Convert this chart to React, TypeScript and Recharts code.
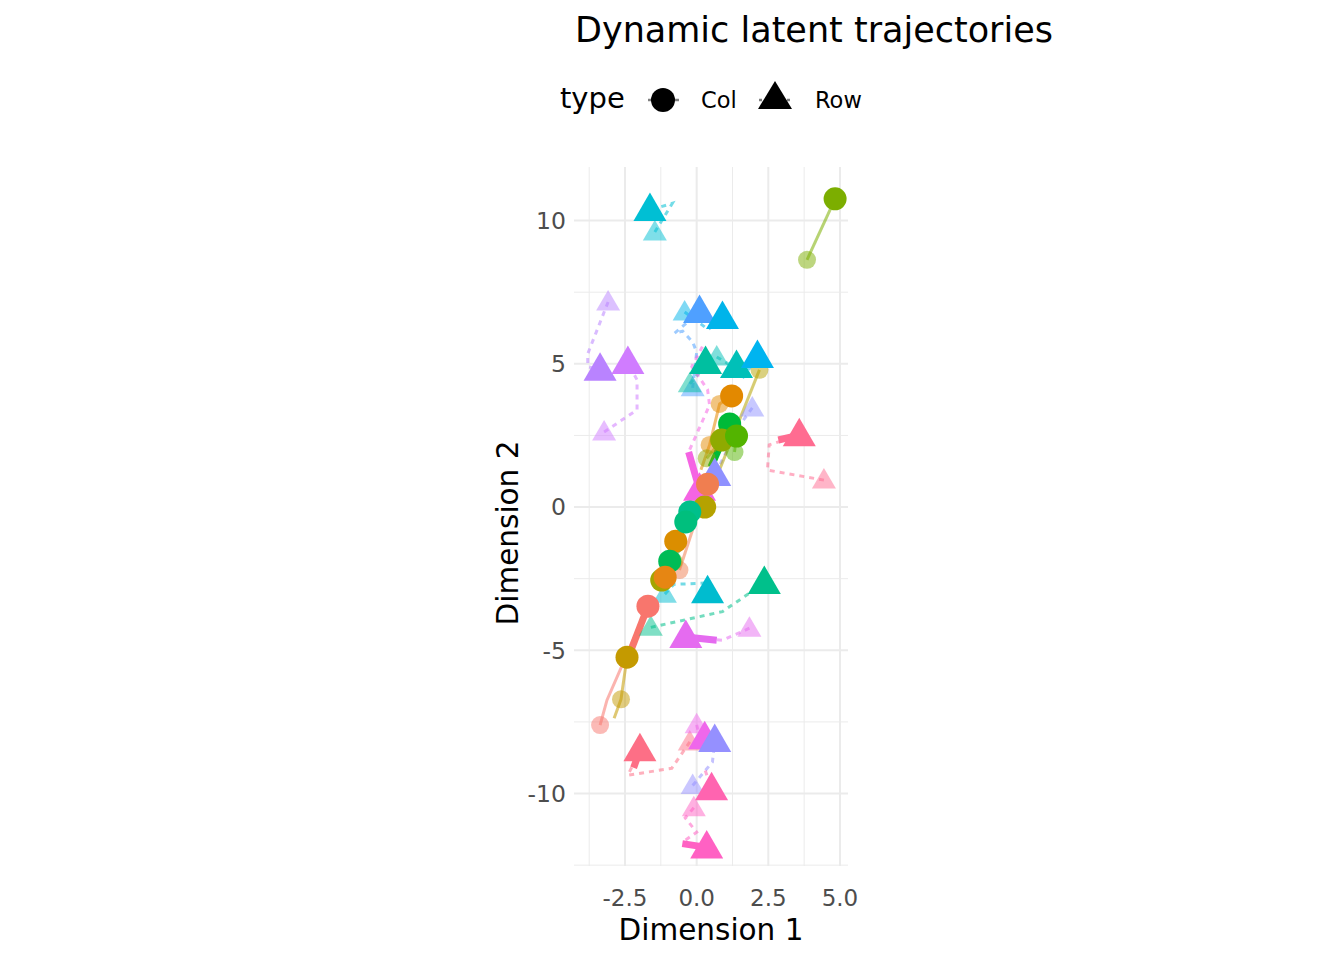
import { ScatterChart, Scatter, XAxis, YAxis, ReferenceLine } from 'recharts';

type Pt = { x: number; y: number; m: number }; // m: 0 = path only, 1 = earlier step, 2 = latest
type Track = { id: string; kind: 'col' | 'row'; color: string; pts: Pt[]; tail?: Pt };

const p = (x: number, y: number, m = 0): Pt => ({ x, y, m });

// ---- tick labels / grid ----
const xTicks = [-2.5, 0, 2.5, 5];
const yTicks = [-10, -5, 0, 5, 10];
const xMinor = [-3.75, -1.25, 1.25, 3.75];
const yMinor = [-12.5, -7.5, -2.5, 2.5, 7.5];

// ---- Col trajectories (solid) ----
const colLime = [p(3.85, 8.63, 1), p(4.83, 10.76, 2)];
const colSalmon = [p(-3.37, -7.61, 1), p(-3.13, -6.74), p(-1.7, -3.46, 2)];
const colGold = [p(-2.88, -7.37), p(-2.64, -6.71, 1), p(-2.43, -5.24, 2)];
const colOrange = [p(0.15, 1.3), p(0.45, 2.17, 1), p(0.8, 3.6, 1), p(1.22, 3.88, 2)];
const colGreen = [p(0.3, 0.9), p(1.15, 2.9, 2)];
const colOliveLime = [p(0.35, 1.7, 1), p(0.87, 2.34, 2)];
const colLeaf = [p(1.32, 1.92, 1), p(1.39, 2.48, 2)];
const colOlive = [p(2.19, 4.79, 1), p(0.28, 0.0, 2)];
const colCoral = [p(-0.6, -2.2, 1), p(0.38, 0.8, 2)];
const colAmber = [p(-0.1, 0.5), p(-0.73, -1.19, 2)];
const colEmerald = [p(-0.4, -1.3), p(-0.94, -1.89, 2)];
const colJade = [p(0.1, 0.6), p(-0.24, -0.17, 2)];
const colMint = [p(-0.1, 0.1), p(-0.38, -0.52, 2)];
const colMoss = [p(-0.8, -1.9, 1), p(-1.22, -2.55, 2)];
const colTangerine = [p(-0.6, -1.8), p(-1.1, -2.45, 2)];

// ---- Row trajectories (dotted) ----
const rowCyanTop = [p(-1.46, 9.6, 1), p(-0.85, 10.6), p(-1.63, 10.37, 2)];
const rowLavender = [p(-3.09, 7.16, 1), p(-3.8, 5.35), p(-3.8, 4.9), p(-3.37, 4.79, 2)];
const rowViolet = [p(-3.23, 2.62, 1), p(-2.08, 3.39), p(-2.08, 4.44), p(-2.4, 5.03, 2)];
const rowBlue = [p(-0.14, 4.16, 1), p(0.0, 5.41), p(-0.14, 5.76), p(-0.49, 6.14), p(-0.77, 6.07), p(0.1, 6.81, 2)];
const rowAzure = [p(-0.42, 6.81, 1), p(0.4, 6.2), p(0.9, 6.6, 2)];
const rowTeal = [p(-0.24, 4.3, 1), p(0.1, 4.7), p(0.31, 5.03, 2)];
const rowTurquoise = [p(0.7, 5.24, 1), p(1.1, 5.0), p(1.39, 4.89, 2)];
const rowSky = [p(1.6, 4.5), p(2.12, 5.24, 2)];
const rowPeriwinkle = [p(1.94, 3.46, 1), p(1.5, 2.86), p(0.63, 1.12, 2)];
const rowRose = [p(4.44, 0.94, 1), p(2.47, 1.29), p(2.53, 2.17), p(3.58, 2.51, 2)];
const rowSea = [p(-1.6, -4.2, 1), p(0.9, -3.65), p(2.36, -2.65, 2)];
const rowCerulean = [p(-1.11, -3.04, 1), p(-0.8, -2.7), p(0.35, -2.65), p(0.38, -2.97, 2)];
const rowOrchid = [p(1.84, -4.23, 1), p(0.9, -4.65), p(-0.38, -4.54, 2)];
const rowMagenta = [p(0.2, 5.6), p(-0.17, 4.9), p(0.38, 4.1), p(0.45, 3.56), p(-0.28, 1.92), p(0.1, 0.6, 2)];
const rowCrimson = [p(-0.24, -8.2, 1), p(-0.87, -9.12), p(-2.4, -9.36), p(-1.98, -8.49, 2)];
const rowFuchsia = [p(0.0, -7.6, 1), p(0.1, -8.0), p(0.28, -8.07, 2)];
const rowIris = [p(-0.14, -9.72, 1), p(0.55, -8.9), p(0.63, -8.17, 2)];
const rowPink = [p(-0.1, -10.5, 1), p(-0.4, -10.85), p(0.0, -11.35), p(-0.5, -11.7), p(0.35, -11.88, 2)];
const rowBlush = [p(0.3, -9.2), p(0.52, -9.85, 2)];

const rowTracks: Track[] = [
  { id: 'r1', kind: 'row', color: '#00BFD4', pts: rowCyanTop },
  { id: 'r2', kind: 'row', color: '#B983FF', pts: rowLavender },
  { id: 'r3', kind: 'row', color: '#D07CFF', pts: rowViolet },
  { id: 'r4', kind: 'row', color: '#4FA0FF', pts: rowBlue },
  { id: 'r5', kind: 'row', color: '#00B4EA', pts: rowAzure },
  { id: 'r6', kind: 'row', color: '#00BFA0', pts: rowTeal },
  { id: 'r7', kind: 'row', color: '#00C0B8', pts: rowTurquoise },
  { id: 'r8', kind: 'row', color: '#00B4F0', pts: rowSky },
  { id: 'r9', kind: 'row', color: '#8F91FF', pts: rowPeriwinkle },
  { id: 'r10', kind: 'row', color: '#FF6C91', pts: rowRose, tail: p(2.85, 2.34) },
  { id: 'r11', kind: 'row', color: '#00C08B', pts: rowSea },
  { id: 'r12', kind: 'row', color: '#00BCCF', pts: rowCerulean },
  { id: 'r13', kind: 'row', color: '#E56BF0', pts: rowOrchid, tail: p(0.7, -4.65) },
  { id: 'r14', kind: 'row', color: '#F564E3', pts: rowMagenta, tail: p(-0.28, 1.92) },
  { id: 'r15', kind: 'row', color: '#FD6F86', pts: rowCrimson, tail: p(-2.2, -9.1) },
  { id: 'r16', kind: 'row', color: '#EF67EB', pts: rowFuchsia },
  { id: 'r17', kind: 'row', color: '#9590FF', pts: rowIris },
  { id: 'r18', kind: 'row', color: '#FF61C3', pts: rowPink, tail: p(-0.5, -11.75) },
  { id: 'r19', kind: 'row', color: '#FF64B0', pts: rowBlush },
];

const colTracks: Track[] = [
  { id: 'c1', kind: 'col', color: '#7CAE00', pts: colLime },
  { id: 'c2', kind: 'col', color: '#F8766D', pts: colSalmon, tail: p(-2.35, -5.15) },
  { id: 'c3', kind: 'col', color: '#C49A00', pts: colGold },
  { id: 'c4', kind: 'col', color: '#E38900', pts: colOrange },
  { id: 'c5', kind: 'col', color: '#00BA38', pts: colGreen, tail: p(0.5, 1.4) },
  { id: 'c6', kind: 'col', color: '#8FAA00', pts: colOliveLime },
  { id: 'c7', kind: 'col', color: '#53B400', pts: colLeaf },
  { id: 'c8', kind: 'col', color: '#B5A200', pts: colOlive },
  { id: 'c9', kind: 'col', color: '#F07E50', pts: colCoral },
  { id: 'c10', kind: 'col', color: '#DB8E00', pts: colAmber },
  { id: 'c11', kind: 'col', color: '#00BC56', pts: colEmerald },
  { id: 'c12', kind: 'col', color: '#00C08B', pts: colJade },
  { id: 'c13', kind: 'col', color: '#00BF7D', pts: colMint },
  { id: 'c14', kind: 'col', color: '#A3A500', pts: colMoss },
  { id: 'c15', kind: 'col', color: '#E68613', pts: colTangerine },
];

// rows first so the circles land on top, as in the original
const tracks: Track[] = [...rowTracks, ...colTracks];

const FONT = '"DejaVu Sans", sans-serif';

const Empty = () => <g />;

const marker = (kind: 'col' | 'row', color: string) => (props: any) => {
  const { cx, cy, payload } = props;
  if (cx == null || cy == null) return <g />;
  const big = payload.m === 2;
  const op = big ? 1 : 0.5;
  if (kind === 'col') {
    return <circle cx={cx} cy={cy} r={big ? 11.5 : 9} fill={color} fillOpacity={op} />;
  }
  const hw = big ? 16.5 : 12;
  const up = big ? 17.5 : 12;
  const dn = big ? 11 : 8.5;
  return (
    <polygon
      points={`${cx},${cy - up} ${cx - hw},${cy + dn} ${cx + hw},${cy + dn}`}
      fill={color}
      fillOpacity={op}
    />
  );
};

export default function App() {
  const last = (t: Track) => t.pts[t.pts.length - 1];
  return (
    <div style={{ position: 'absolute', left: 0, top: 0, width: 1344, height: 960, background: '#fff', fontFamily: FONT }}>
      <ScatterChart width={1344} height={960} margin={{ top: 167, right: 496, bottom: 64, left: 514 }}>
        <XAxis
          type="number"
          dataKey="x"
          domain={[-4.28, 5.28]}
          allowDataOverflow
          ticks={xTicks}
          tickFormatter={(v: number) => v.toFixed(1)}
          axisLine={false}
          tickLine={false}
          tickSize={0}
          tickMargin={24}
          height={30}
          tick={{ fill: '#4D4D4D', fontSize: 23, fontFamily: FONT }}
        />
        <YAxis
          type="number"
          dataKey="y"
          domain={[-12.53, 11.87]}
          allowDataOverflow
          ticks={yTicks}
          axisLine={false}
          tickLine={false}
          tickSize={0}
          tickMargin={8}
          width={60}
          tick={{ fill: '#4D4D4D', fontSize: 23.5, fontFamily: FONT }}
        />
        {xMinor.map((v) => (
          <ReferenceLine key={'xm' + v} x={v} stroke="#EBEBEB" strokeWidth={1} />
        ))}
        {yMinor.map((v) => (
          <ReferenceLine key={'ym' + v} y={v} stroke="#EBEBEB" strokeWidth={1} />
        ))}
        {xTicks.map((v) => (
          <ReferenceLine key={'xM' + v} x={v} stroke="#EBEBEB" strokeWidth={2} />
        ))}
        {yTicks.map((v) => (
          <ReferenceLine key={'yM' + v} y={v} stroke="#EBEBEB" strokeWidth={2} />
        ))}

        {/* paths */}
        {tracks.map((t) => (
          <Scatter
            key={'path' + t.id}
            data={t.pts}
            shape={Empty}
            isAnimationActive={false}
            line={{
              stroke: t.color,
              strokeWidth: 3,
              strokeOpacity: 0.55,
              strokeDasharray: t.kind === 'row' ? '5 5' : undefined,
              fill: 'none',
            }}
          />
        ))}
        {/* arrow shafts into the latest step */}
        {tracks
          .filter((t) => t.tail)
          .map((t) => (
            <Scatter
              key={'tail' + t.id}
              data={[t.tail as Pt, last(t)]}
              shape={Empty}
              isAnimationActive={false}
              line={{ stroke: t.color, strokeWidth: 7, fill: 'none' }}
            />
          ))}
        {/* earlier steps */}
        {tracks.map((t) => (
          <Scatter
            key={'early' + t.id}
            data={t.pts.filter((q) => q.m === 1)}
            shape={marker(t.kind, t.color)}
            isAnimationActive={false}
          />
        ))}
        {/* latest step */}
        {tracks.map((t) => (
          <Scatter
            key={'late' + t.id}
            data={t.pts.filter((q) => q.m === 2)}
            shape={marker(t.kind, t.color)}
            isAnimationActive={false}
          />
        ))}
      </ScatterChart>

      <svg
        width={1344}
        height={960}
        style={{ position: 'absolute', left: 0, top: 0, pointerEvents: 'none' }}
        fontFamily={FONT}
      >
        <text x={814} y={42} textAnchor="middle" fontSize={35} fill="#000">
          Dynamic latent trajectories
        </text>
        <text x={560} y={108} fontSize={29} fill="#000">
          type
        </text>
        <line x1={648} y1={100} x2={679} y2={100} stroke="#7F7F7F" strokeWidth={2.5} />
        <circle cx={663} cy={100} r={12} fill="#000" />
        <text x={701} y={108} fontSize={22.5} fill="#000">
          Col
        </text>
        <line x1={759} y1={100} x2={791} y2={100} stroke="#7F7F7F" strokeWidth={2.5} strokeDasharray="3 4" />
        <polygon points="775,81 758,109 792,109" fill="#000" />
        <text x={815} y={108} fontSize={22.5} fill="#000">
          Row
        </text>
        <text x={711} y={940} textAnchor="middle" fontSize={29.5} fill="#000">
          Dimension 1
        </text>
        <text x={518} y={533} textAnchor="middle" fontSize={29.5} fill="#000" transform="rotate(-90 518 533)">
          Dimension 2
        </text>
      </svg>
    </div>
  );
}
